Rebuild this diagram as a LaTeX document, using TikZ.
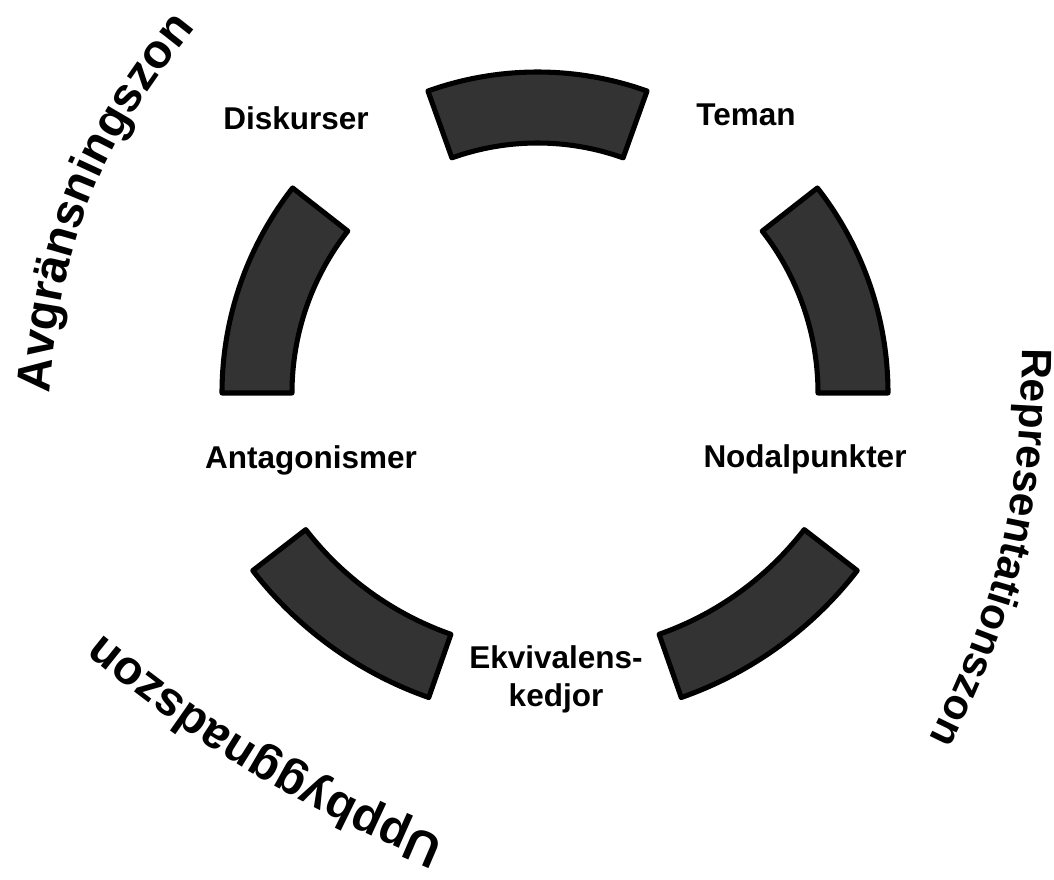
\documentclass[tikz,border=0pt]{standalone}
\usepackage{fontspec}
\setmainfont{Liberation Sans}
\usetikzlibrary{decorations.text}
\tikzset
{
    segment/.style = {draw=black, fill=black!80, line width=3.6pt, line join=round},
    stage/.style   = {align=center, inner sep=0pt, font=\bfseries\fontsize{22.4}{27}\selectfont},
    zone/.style    = {decorate, decoration={text along path, text align=center, text={#1}}}
}

\begin{document}
\begin{tikzpicture}[x=0.025cm, y=0.025cm]
\useasboundingbox (0,0) rectangle (1054,880);
\coordinate (topc) at (537.5,483);
\coordinate (midc) at (555,487);
\coordinate (lowc) at (555,543);
\draw[segment] ([shift={(topc)}]70.3:325) arc[start angle=70.3, end angle=109.7, radius=325] -- ([shift={(topc)}]109.7:254) arc[start angle=109.7, end angle=70.3, radius=254] -- cycle;
\draw[segment] ([shift={(midc)}]0:333) arc[start angle=0, end angle=38, radius=333] -- ([shift={(midc)}]38:263) arc[start angle=38, end angle=0, radius=263] -- cycle;
\draw[segment] ([shift={(midc)}]142:333) arc[start angle=142, end angle=180, radius=333] -- ([shift={(midc)}]180:263) arc[start angle=180, end angle=142, radius=263] -- cycle;
\draw[segment] ([shift={(lowc)}]217.7:382) arc[start angle=217.7, end angle=250.7, radius=382] -- ([shift={(lowc)}]250.7:315) arc[start angle=250.7, end angle=217.7, radius=315] -- cycle;
\draw[segment] ([shift={(lowc)}]289.3:382) arc[start angle=289.3, end angle=322.3, radius=382] -- ([shift={(lowc)}]322.3:315) arc[start angle=322.3, end angle=289.3, radius=315] -- cycle;
\node[stage, anchor=base] (diskurser) at (296,750) {Diskurser};
\node[stage, anchor=base] (teman) at (746,754) {Teman};
\node[stage, anchor=base] (antag) at (311,411) {Antagonismer};
\node[stage, anchor=base] (nodal) at (805,412) {Nodalpunkter};
\node[stage] (ekviv) at (556,201) {Ekvivalens-\\kedjor};
\coordinate (avgA) at (50,492);
\coordinate (avgB) at (192,848);
\coordinate (repA) at (1022,530);
\coordinate (repB) at (930,143);
\coordinate (uppA) at (440,42);
\coordinate (uppB) at (105,243);
\path[zone={|\bfseries\fontsize{34}{38}\selectfont|Avgränsningszon}] (avgA) to[bend left=17] (avgB);
\path[zone={|\bfseries\fontsize{30.2}{34}\selectfont|Representationszon}] (repA) to[bend left=13] (repB);
\path[zone={|\bfseries\fontsize{34}{38}\selectfont|Uppbyggnadszon}] (uppA) to[bend left=8] (uppB);
\end{tikzpicture}
\end{document}
